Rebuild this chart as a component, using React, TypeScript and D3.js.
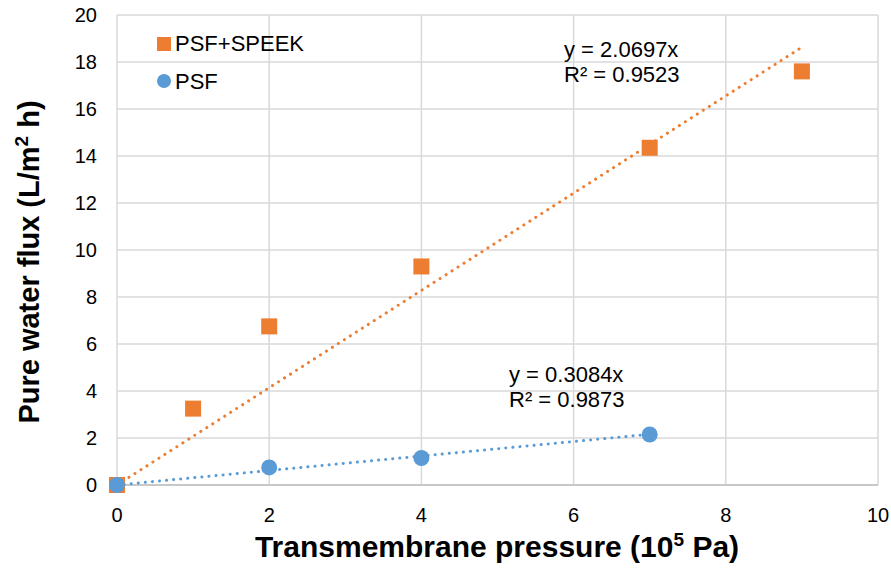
import React, { useRef, useEffect } from 'react';
import * as d3 from 'd3';

interface Point {
    x: number;
    y: number;
}

// PSF+SPEEK membrane
const speekX = [0, 1, 2, 4, 7, 9];
const speekY = [0, 3.25, 6.75, 9.3, 14.35, 17.6];
// PSF membrane
const psfX = [0, 2, 4, 7];
const psfY = [0, 0.75, 1.15, 2.15];

// Linear trend through origin
const speekSlope = 2.0697;
const psfSlope = 0.3084;

const xTicks = [0, 2, 4, 6, 8, 10];
const yTicks = [0, 2, 4, 6, 8, 10, 12, 14, 16, 18, 20];

const ORANGE = '#ED7D31';
const BLUE = '#5B9BD5';
const FONT = 'Liberation Sans, Arial, sans-serif';

const App: React.FC = () => {
    const ref = useRef<HTMLDivElement>(null);

    useEffect(() => {
        const container = d3.select(ref.current);
        container.selectAll('*').remove();

        const width = 891;
        const height = 569;
        const margin = { top: 15, right: 13, bottom: 84, left: 117 };

        const svg = container.append('svg')
            .attr('width', width)
            .attr('height', height)
            .style('position', 'absolute')
            .style('left', '0px')
            .style('top', '0px')
            .style('font-family', FONT);

        const x = d3.scaleLinear().domain([0, 10]).range([margin.left, width - margin.right]);
        const y = d3.scaleLinear().domain([0, 20]).range([height - margin.bottom, margin.top]);

        // grid
        svg.append('g').selectAll('line.v')
            .data(xTicks)
            .enter()
            .append('line')
            .attr('x1', d => x(d))
            .attr('x2', d => x(d))
            .attr('y1', y(0))
            .attr('y2', y(20))
            .attr('stroke', '#d9d9d9')
            .attr('stroke-width', 1.5);

        svg.append('g').selectAll('line.h')
            .data(yTicks)
            .enter()
            .append('line')
            .attr('x1', x(0))
            .attr('x2', x(10))
            .attr('y1', d => y(d))
            .attr('y2', d => y(d))
            .attr('stroke', '#d9d9d9')
            .attr('stroke-width', 1.5);

        // bottom axis line slightly darker
        svg.append('line')
            .attr('x1', x(0)).attr('x2', x(10))
            .attr('y1', y(0)).attr('y2', y(0))
            .attr('stroke', '#bfbfbf')
            .attr('stroke-width', 1.5);

        // tick labels
        svg.append('g').selectAll('text')
            .data(yTicks)
            .enter()
            .append('text')
            .attr('x', x(0) - 20)
            .attr('y', d => y(d) + 7)
            .attr('text-anchor', 'end')
            .style('font-size', '20px')
            .style('fill', '#000')
            .text(d => d);

        svg.append('g').selectAll('text')
            .data(xTicks)
            .enter()
            .append('text')
            .attr('x', d => x(d))
            .attr('y', y(0) + 37)
            .attr('text-anchor', 'middle')
            .style('font-size', '20px')
            .style('fill', '#000')
            .text(d => d);

        // axis titles
        const xt = svg.append('text')
            .attr('x', 497)
            .attr('y', 557)
            .attr('text-anchor', 'middle')
            .style('font-size', '30px')
            .style('font-weight', 'bold');
        xt.append('tspan').text('Transmembrane pressure (10');
        xt.append('tspan').attr('dy', -11).style('font-size', '19px').text('5');
        xt.append('tspan').attr('dy', 11).text(' Pa)');

        const yt = svg.append('text')
            .attr('transform', `translate(39,${(y(0) + y(20)) / 2 + 12}) rotate(-90)`)
            .attr('text-anchor', 'middle')
            .style('font-size', '29px')
            .style('font-weight', 'bold');
        yt.append('tspan').text('Pure water flux (L/m');
        yt.append('tspan').attr('dy', -11).style('font-size', '19px').text('2');
        yt.append('tspan').attr('dy', 11).text(' h)');

        // trendlines
        const trend = (slope: number, xMax: number, color: string) => {
            const pts: Point[] = [{ x: 0, y: 0 }, { x: xMax, y: slope * xMax }];
            svg.append('path')
                .attr('d', d3.line<Point>().x(d => x(d.x)).y(d => y(d.y))(pts) || '')
                .attr('fill', 'none')
                .attr('stroke', color)
                .attr('stroke-width', 3)
                .attr('stroke-linecap', 'round')
                .attr('stroke-dasharray', '0.1 7');
        };
        trend(speekSlope, d3.max(speekX) || 0, ORANGE);
        trend(psfSlope, d3.max(psfX) || 0, BLUE);

        const speek: Point[] = speekX.map((v, i) => ({ x: v, y: speekY[i] }));
        const psf: Point[] = psfX.map((v, i) => ({ x: v, y: psfY[i] }));

        const sq = 16;
        svg.append('g').selectAll('rect')
            .data(speek)
            .enter()
            .append('rect')
            .attr('x', d => x(d.x) - sq / 2)
            .attr('y', d => y(d.y) - sq / 2)
            .attr('width', sq)
            .attr('height', sq)
            .attr('fill', ORANGE);

        svg.append('g').selectAll('circle')
            .data(psf)
            .enter()
            .append('circle')
            .attr('cx', d => x(d.x))
            .attr('cy', d => y(d.y))
            .attr('r', 8)
            .attr('fill', BLUE);

        // legend
        svg.append('rect')
            .attr('x', 157).attr('y', 37).attr('width', 14).attr('height', 14)
            .attr('fill', ORANGE);
        svg.append('text')
            .attr('x', 175).attr('y', 51)
            .style('font-size', '22px')
            .text('PSF+SPEEK');
        svg.append('circle')
            .attr('cx', 164).attr('cy', 81).attr('r', 7)
            .attr('fill', BLUE);
        svg.append('text')
            .attr('x', 175).attr('y', 89)
            .style('font-size', '22px')
            .text('PSF');

        // equations
        const eq = (px: number, py: number, slope: number, r2: string) => {
            svg.append('text')
                .attr('x', px).attr('y', py)
                .style('font-size', '22px')
                .text(`y = ${slope}x`);
            svg.append('text')
                .attr('x', px).attr('y', py + 25)
                .style('font-size', '22px')
                .text(`R² = ${r2}`);
        };
        eq(564, 57, speekSlope, '0.9523');
        eq(509, 382, psfSlope, '0.9873');
    }, []);

    return <div ref={ref} />;
};

export default App;
